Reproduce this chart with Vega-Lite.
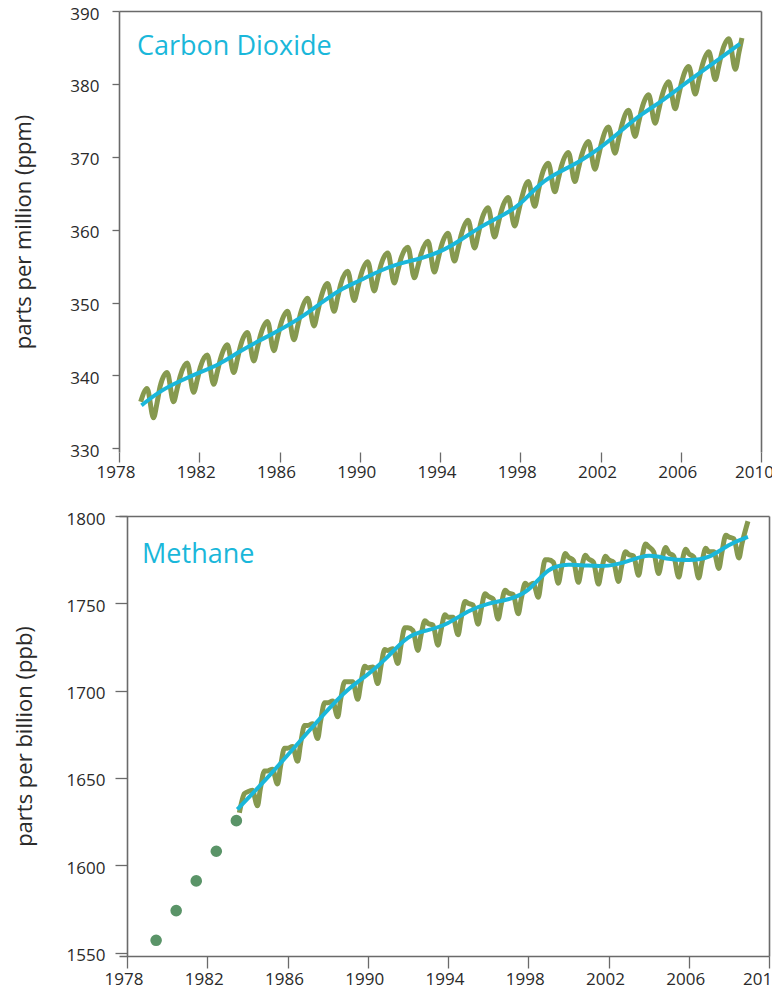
{
  "$schema": "https://vega.github.io/schema/vega-lite/v6.json",
  "autosize": {"type": "pad"},
  "padding": {"left": 12, "top": 5, "right": 0, "bottom": 6},
  "background": "white",
  "spacing": 30,
  "config": {
    "view": {"stroke": null},
    "axis": {
      "grid": false,
      "domainColor": "#6a6a6a", "domainWidth": 1.6,
      "tickColor": "#6a6a6a", "tickWidth": 1.3,
      "labelFont": "Open Sans", "labelFontSize": 17, "labelColor": "#2a2a2a",
      "titleFont": "Open Sans", "titleFontSize": 22, "titleFontWeight": "normal", "titleColor": "#2a2a2a"
    }
  },
  "datasets": {
    "co2": [
      {"year": 1979.08, "ppm": 336.4}, {"year": 1979.4, "ppm": 338.2}, {"year": 1979.72, "ppm": 334.2}, {"year": 1979.9, "ppm": 336.3},
      {"year": 1980.05, "ppm": 338.5}, {"year": 1980.4, "ppm": 340.4}, {"year": 1980.72, "ppm": 336.4}, {"year": 1980.9, "ppm": 338.2},
      {"year": 1981.05, "ppm": 339.9}, {"year": 1981.4, "ppm": 341.7}, {"year": 1981.72, "ppm": 337.7}, {"year": 1981.9, "ppm": 339.4},
      {"year": 1982.05, "ppm": 341.1}, {"year": 1982.4, "ppm": 342.8}, {"year": 1982.72, "ppm": 338.8}, {"year": 1982.9, "ppm": 340.5},
      {"year": 1983.05, "ppm": 342.2}, {"year": 1983.4, "ppm": 344.2}, {"year": 1983.72, "ppm": 340.4}, {"year": 1983.9, "ppm": 342.2},
      {"year": 1984.05, "ppm": 344.0}, {"year": 1984.4, "ppm": 345.9}, {"year": 1984.72, "ppm": 342.0}, {"year": 1984.9, "ppm": 343.8},
      {"year": 1985.05, "ppm": 345.5}, {"year": 1985.4, "ppm": 347.4}, {"year": 1985.72, "ppm": 343.4}, {"year": 1985.9, "ppm": 345.2},
      {"year": 1986.05, "ppm": 346.9}, {"year": 1986.4, "ppm": 348.8}, {"year": 1986.72, "ppm": 344.9}, {"year": 1986.9, "ppm": 346.7},
      {"year": 1987.05, "ppm": 348.5}, {"year": 1987.4, "ppm": 350.6}, {"year": 1987.72, "ppm": 346.8}, {"year": 1987.9, "ppm": 348.7},
      {"year": 1988.05, "ppm": 350.5}, {"year": 1988.4, "ppm": 352.6}, {"year": 1988.72, "ppm": 348.8}, {"year": 1988.9, "ppm": 350.7},
      {"year": 1989.05, "ppm": 352.5}, {"year": 1989.4, "ppm": 354.3}, {"year": 1989.72, "ppm": 350.3}, {"year": 1989.9, "ppm": 352.0},
      {"year": 1990.05, "ppm": 353.7}, {"year": 1990.4, "ppm": 355.6}, {"year": 1990.72, "ppm": 351.6}, {"year": 1990.9, "ppm": 353.4},
      {"year": 1991.05, "ppm": 355.1}, {"year": 1991.4, "ppm": 356.8}, {"year": 1991.72, "ppm": 352.7}, {"year": 1991.9, "ppm": 354.4},
      {"year": 1992.05, "ppm": 356.0}, {"year": 1992.4, "ppm": 357.6}, {"year": 1992.72, "ppm": 353.4}, {"year": 1992.9, "ppm": 355.0},
      {"year": 1993.05, "ppm": 356.6}, {"year": 1993.4, "ppm": 358.4}, {"year": 1993.72, "ppm": 354.2}, {"year": 1993.9, "ppm": 355.9},
      {"year": 1994.05, "ppm": 357.6}, {"year": 1994.4, "ppm": 359.5}, {"year": 1994.72, "ppm": 355.7}, {"year": 1994.9, "ppm": 357.4},
      {"year": 1995.05, "ppm": 359.2}, {"year": 1995.4, "ppm": 361.3}, {"year": 1995.72, "ppm": 357.5}, {"year": 1995.9, "ppm": 359.3},
      {"year": 1996.05, "ppm": 361.1}, {"year": 1996.4, "ppm": 363.0}, {"year": 1996.72, "ppm": 359.0}, {"year": 1996.9, "ppm": 360.8},
      {"year": 1997.05, "ppm": 362.5}, {"year": 1997.4, "ppm": 364.4}, {"year": 1997.72, "ppm": 360.5}, {"year": 1997.9, "ppm": 362.3},
      {"year": 1998.05, "ppm": 364.1}, {"year": 1998.4, "ppm": 366.6}, {"year": 1998.72, "ppm": 363.2}, {"year": 1998.9, "ppm": 365.3},
      {"year": 1999.05, "ppm": 367.2}, {"year": 1999.4, "ppm": 369.1}, {"year": 1999.72, "ppm": 365.2}, {"year": 1999.9, "ppm": 367.0},
      {"year": 2000.05, "ppm": 368.7}, {"year": 2000.4, "ppm": 370.6}, {"year": 2000.72, "ppm": 366.6}, {"year": 2000.9, "ppm": 368.4},
      {"year": 2001.05, "ppm": 370.1}, {"year": 2001.4, "ppm": 372.1}, {"year": 2001.72, "ppm": 368.3}, {"year": 2001.9, "ppm": 370.1},
      {"year": 2002.05, "ppm": 371.9}, {"year": 2002.4, "ppm": 374.1}, {"year": 2002.72, "ppm": 370.5}, {"year": 2002.9, "ppm": 372.4},
      {"year": 2003.05, "ppm": 374.2}, {"year": 2003.4, "ppm": 376.4}, {"year": 2003.72, "ppm": 372.8}, {"year": 2003.9, "ppm": 374.7},
      {"year": 2004.05, "ppm": 376.5}, {"year": 2004.4, "ppm": 378.5}, {"year": 2004.72, "ppm": 374.6}, {"year": 2004.9, "ppm": 376.4},
      {"year": 2005.05, "ppm": 378.2}, {"year": 2005.4, "ppm": 380.3}, {"year": 2005.72, "ppm": 376.6}, {"year": 2005.9, "ppm": 378.5},
      {"year": 2006.05, "ppm": 380.3}, {"year": 2006.4, "ppm": 382.4}, {"year": 2006.72, "ppm": 378.6}, {"year": 2006.9, "ppm": 380.5},
      {"year": 2007.05, "ppm": 382.3}, {"year": 2007.4, "ppm": 384.4}, {"year": 2007.72, "ppm": 380.6}, {"year": 2007.9, "ppm": 382.5},
      {"year": 2008.05, "ppm": 384.3}, {"year": 2008.4, "ppm": 386.2}, {"year": 2008.72, "ppm": 382.0}, {"year": 2008.9, "ppm": 384.3},
      {"year": 2009.05, "ppm": 386.3}
    ],
    "co2trend": [
      {"year": 1979.12, "ppm": 335.9}, {"year": 1980, "ppm": 337.8}, {"year": 1981, "ppm": 339.2}, {"year": 1982, "ppm": 340.4},
      {"year": 1983, "ppm": 341.5}, {"year": 1984, "ppm": 343.3}, {"year": 1985, "ppm": 344.8}, {"year": 1986, "ppm": 346.2},
      {"year": 1987, "ppm": 347.8}, {"year": 1988, "ppm": 349.8}, {"year": 1989, "ppm": 351.8}, {"year": 1990, "ppm": 353.0},
      {"year": 1991, "ppm": 354.4}, {"year": 1992, "ppm": 355.4}, {"year": 1993, "ppm": 356.0}, {"year": 1994, "ppm": 356.9},
      {"year": 1995, "ppm": 358.5}, {"year": 1996, "ppm": 360.4}, {"year": 1997, "ppm": 361.8}, {"year": 1998, "ppm": 363.3},
      {"year": 1999, "ppm": 366.5}, {"year": 2000, "ppm": 368.0}, {"year": 2001, "ppm": 369.4}, {"year": 2002, "ppm": 371.2},
      {"year": 2003, "ppm": 373.5}, {"year": 2004, "ppm": 375.8}, {"year": 2005, "ppm": 377.5}, {"year": 2006, "ppm": 379.6},
      {"year": 2007, "ppm": 381.6}, {"year": 2008, "ppm": 383.6}, {"year": 2008.95, "ppm": 385.5}
    ],
    "ch4": [
      {"year": 1983.6, "ppb": 1630}, {"year": 1983.85, "ppb": 1641},
      {"year": 1984.0, "ppb": 1642}, {"year": 1984.25, "ppb": 1643}, {"year": 1984.5, "ppb": 1634}, {"year": 1984.65, "ppb": 1644}, {"year": 1984.85, "ppb": 1654},
      {"year": 1985.0, "ppb": 1654}, {"year": 1985.25, "ppb": 1655}, {"year": 1985.5, "ppb": 1646.5}, {"year": 1985.65, "ppb": 1656.5}, {"year": 1985.85, "ppb": 1667},
      {"year": 1986.0, "ppb": 1667}, {"year": 1986.25, "ppb": 1668}, {"year": 1986.5, "ppb": 1659.5}, {"year": 1986.65, "ppb": 1669.5}, {"year": 1986.85, "ppb": 1680},
      {"year": 1987.0, "ppb": 1680}, {"year": 1987.25, "ppb": 1681}, {"year": 1987.5, "ppb": 1672.5}, {"year": 1987.65, "ppb": 1682.5}, {"year": 1987.85, "ppb": 1693},
      {"year": 1988.0, "ppb": 1693}, {"year": 1988.25, "ppb": 1694}, {"year": 1988.5, "ppb": 1685}, {"year": 1988.65, "ppb": 1695}, {"year": 1988.85, "ppb": 1705},
      {"year": 1989.0, "ppb": 1705}, {"year": 1989.25, "ppb": 1705}, {"year": 1989.5, "ppb": 1695}, {"year": 1989.65, "ppb": 1704}, {"year": 1989.85, "ppb": 1714},
      {"year": 1990.0, "ppb": 1713}, {"year": 1990.25, "ppb": 1713.5}, {"year": 1990.5, "ppb": 1704}, {"year": 1990.65, "ppb": 1713.5}, {"year": 1990.85, "ppb": 1723.5},
      {"year": 1991.0, "ppb": 1723}, {"year": 1991.25, "ppb": 1724}, {"year": 1991.5, "ppb": 1715.5}, {"year": 1991.65, "ppb": 1725.5}, {"year": 1991.85, "ppb": 1736},
      {"year": 1992.0, "ppb": 1736}, {"year": 1992.25, "ppb": 1734.5}, {"year": 1992.5, "ppb": 1723}, {"year": 1992.65, "ppb": 1731.5}, {"year": 1992.85, "ppb": 1740},
      {"year": 1993.0, "ppb": 1738.5}, {"year": 1993.25, "ppb": 1737.5}, {"year": 1993.5, "ppb": 1726}, {"year": 1993.65, "ppb": 1734.5}, {"year": 1993.85, "ppb": 1743.5},
      {"year": 1994.0, "ppb": 1742}, {"year": 1994.25, "ppb": 1742}, {"year": 1994.5, "ppb": 1732}, {"year": 1994.65, "ppb": 1741}, {"year": 1994.85, "ppb": 1751},
      {"year": 1995.0, "ppb": 1750}, {"year": 1995.25, "ppb": 1749}, {"year": 1995.5, "ppb": 1738}, {"year": 1995.65, "ppb": 1746.5}, {"year": 1995.85, "ppb": 1755.5},
      {"year": 1996.0, "ppb": 1754}, {"year": 1996.25, "ppb": 1752.5}, {"year": 1996.5, "ppb": 1741}, {"year": 1996.65, "ppb": 1749}, {"year": 1996.85, "ppb": 1757.5},
      {"year": 1997.0, "ppb": 1756}, {"year": 1997.25, "ppb": 1755}, {"year": 1997.5, "ppb": 1744}, {"year": 1997.65, "ppb": 1752.5}, {"year": 1997.85, "ppb": 1761.5},
      {"year": 1998.0, "ppb": 1760}, {"year": 1998.25, "ppb": 1761.5}, {"year": 1998.5, "ppb": 1753.5}, {"year": 1998.65, "ppb": 1763.5}, {"year": 1998.85, "ppb": 1775},
      {"year": 1999.0, "ppb": 1775}, {"year": 1999.25, "ppb": 1773.5}, {"year": 1999.5, "ppb": 1761.5}, {"year": 1999.65, "ppb": 1770}, {"year": 1999.85, "ppb": 1778.5},
      {"year": 2000.0, "ppb": 1776.5}, {"year": 2000.25, "ppb": 1774.5}, {"year": 2000.5, "ppb": 1762}, {"year": 2000.65, "ppb": 1770}, {"year": 2000.85, "ppb": 1777.5},
      {"year": 2001.0, "ppb": 1775.5}, {"year": 2001.25, "ppb": 1773.5}, {"year": 2001.5, "ppb": 1761}, {"year": 2001.65, "ppb": 1769}, {"year": 2001.85, "ppb": 1777},
      {"year": 2002.0, "ppb": 1775}, {"year": 2002.25, "ppb": 1773.5}, {"year": 2002.5, "ppb": 1762.5}, {"year": 2002.65, "ppb": 1771}, {"year": 2002.85, "ppb": 1779.5},
      {"year": 2003.0, "ppb": 1778}, {"year": 2003.25, "ppb": 1777}, {"year": 2003.5, "ppb": 1766}, {"year": 2003.65, "ppb": 1775}, {"year": 2003.85, "ppb": 1784},
      {"year": 2004.0, "ppb": 1782.5}, {"year": 2004.25, "ppb": 1779.5}, {"year": 2004.5, "ppb": 1767}, {"year": 2004.65, "ppb": 1774.5}, {"year": 2004.85, "ppb": 1782},
      {"year": 2005.0, "ppb": 1779}, {"year": 2005.25, "ppb": 1777}, {"year": 2005.5, "ppb": 1765}, {"year": 2005.65, "ppb": 1773}, {"year": 2005.85, "ppb": 1781},
      {"year": 2006.0, "ppb": 1778.5}, {"year": 2006.25, "ppb": 1776.5}, {"year": 2006.5, "ppb": 1764.5}, {"year": 2006.65, "ppb": 1773}, {"year": 2006.85, "ppb": 1781.5},
      {"year": 2007.0, "ppb": 1779.5}, {"year": 2007.25, "ppb": 1779.5}, {"year": 2007.5, "ppb": 1770}, {"year": 2007.65, "ppb": 1779}, {"year": 2007.85, "ppb": 1789},
      {"year": 2008.0, "ppb": 1788}, {"year": 2008.25, "ppb": 1787}, {"year": 2008.5, "ppb": 1776}, {"year": 2008.65, "ppb": 1784}, {"year": 2008.95, "ppb": 1797}
    ],
    "ch4trend": [
      {"year": 1983.5, "ppb": 1632}, {"year": 1984, "ppb": 1638}, {"year": 1985, "ppb": 1650}, {"year": 1986, "ppb": 1663},
      {"year": 1987, "ppb": 1676}, {"year": 1988, "ppb": 1689}, {"year": 1989, "ppb": 1701}, {"year": 1990, "ppb": 1709},
      {"year": 1991, "ppb": 1719}, {"year": 1992, "ppb": 1732}, {"year": 1993, "ppb": 1734.5}, {"year": 1994, "ppb": 1738},
      {"year": 1995, "ppb": 1746}, {"year": 1996, "ppb": 1750}, {"year": 1997, "ppb": 1752}, {"year": 1998, "ppb": 1756},
      {"year": 1999, "ppb": 1771}, {"year": 2000, "ppb": 1772.5}, {"year": 2001, "ppb": 1771.5}, {"year": 2002, "ppb": 1771},
      {"year": 2003, "ppb": 1774}, {"year": 2004, "ppb": 1778.5}, {"year": 2005, "ppb": 1775}, {"year": 2006, "ppb": 1774.5},
      {"year": 2007, "ppb": 1775.5}, {"year": 2008, "ppb": 1784}, {"year": 2008.95, "ppb": 1788}
    ],
    "ch4early": [
      {"year": 1979.45, "ppb": 1557}, {"year": 1980.45, "ppb": 1574}, {"year": 1981.45, "ppb": 1591},
      {"year": 1982.45, "ppb": 1608}, {"year": 1983.45, "ppb": 1625.5}
    ],
    "labels1": [{"year": 1978.9, "ppm": 384.0, "name": "Carbon Dioxide"}],
    "labels2": [{"year": 1978.75, "ppb": 1773.2, "name": "Methane"}]
  },
  "vconcat": [
    {
      "width": 642, "height": 441,
      "resolve": {"axis": {"x": "independent", "y": "independent"}},
      "layer": [
        {
          "data": {"name": "co2"},
          "mark": {"type": "line", "color": "#86994f", "strokeWidth": 5, "interpolate": "monotone"},
          "encoding": {
            "x": {"field": "year", "type": "quantitative", "scale": {"domain": [1978, 2010], "nice": false, "zero": false},
                  "axis": {"title": null, "values": [1978, 1982, 1986, 1990, 1994, 1998, 2002, 2006, 2010], "format": "d", "domain": false, "tickSize": 10, "labelPadding": 2, "labelFlush": false,
                           "labelOffset": {"condition": {"test": "datum.value == 2010", "value": -7}, "value": -3.5}}},
            "y": {"field": "ppm", "type": "quantitative", "scale": {"domain": [329.5, 390], "nice": false, "zero": false},
                  "axis": {"title": "parts per million (ppm)", "values": [330, 340, 350, 360, 370, 380, 390], "format": "d", "tickSize": 7, "labelPadding": 13, "labelOffset": 3, "titlePadding": 34}}
          }
        },
        {
          "data": {"name": "co2trend"},
          "mark": {"type": "line", "color": "#1ab7da", "strokeWidth": 4, "interpolate": "basis"},
          "encoding": {
            "x": {"field": "year", "type": "quantitative", "axis": {"orient": "top", "title": null, "labels": false, "ticks": false, "domain": true}},
            "y": {"field": "ppm", "type": "quantitative", "axis": {"orient": "right", "title": null, "labels": false, "ticks": false, "domain": true}}
          }
        },
        {
          "data": {"name": "labels1"},
          "mark": {"type": "text", "align": "left", "baseline": "alphabetic", "font": "Open Sans", "fontSize": 27, "color": "#1ab7da"},
          "encoding": {
            "x": {"field": "year", "type": "quantitative", "axis": null},
            "y": {"field": "ppm", "type": "quantitative", "axis": null},
            "text": {"field": "name"}
          }
        }
      ]
    },
    {
      "width": 650, "height": 440,
      "resolve": {"axis": {"x": "independent", "y": "independent"}},
      "layer": [
        {
          "data": {"name": "ch4"},
          "mark": {"type": "line", "color": "#86994f", "strokeWidth": 5, "interpolate": "monotone"},
          "encoding": {
            "x": {"field": "year", "type": "quantitative", "scale": {"domain": [1977.6, 2010], "nice": false, "zero": false},
                  "axis": {"title": null, "values": [1978, 1982, 1986, 1990, 1994, 1998, 2002, 2006, 2010], "format": "d", "domain": true, "tickSize": 12, "labelPadding": 3, "labelFlush": false,
                           "labelOffset": {"condition": {"test": "datum.value == 2010", "value": -7}, "value": -3.5}}},
            "y": {"field": "ppb", "type": "quantitative", "scale": {"domain": [1548, 1800], "nice": false, "zero": false},
                  "axis": {"title": "parts per billion (ppb)", "values": [1550, 1600, 1650, 1700, 1750, 1800], "format": "d", "offset": -8, "tickSize": 12, "labelPadding": 10, "labelOffset": 3, "titlePadding": 30}}
          }
        },
        {
          "data": {"name": "ch4trend"},
          "mark": {"type": "line", "color": "#1ab7da", "strokeWidth": 4, "interpolate": "basis"},
          "encoding": {
            "x": {"field": "year", "type": "quantitative", "axis": {"orient": "top", "title": null, "labels": false, "ticks": false, "domain": true}},
            "y": {"field": "ppb", "type": "quantitative", "axis": {"orient": "right", "title": null, "labels": false, "ticks": false, "domain": true}}
          }
        },
        {
          "data": {"name": "ch4early"},
          "mark": {"type": "circle", "color": "#5a9468", "opacity": 1, "size": 135},
          "encoding": {
            "x": {"field": "year", "type": "quantitative", "axis": null},
            "y": {"field": "ppb", "type": "quantitative", "axis": null}
          }
        },
        {
          "data": {"name": "labels2"},
          "mark": {"type": "text", "align": "left", "baseline": "alphabetic", "font": "Open Sans", "fontSize": 27, "color": "#1ab7da"},
          "encoding": {
            "x": {"field": "year", "type": "quantitative", "axis": null},
            "y": {"field": "ppb", "type": "quantitative", "axis": null},
            "text": {"field": "name"}
          }
        }
      ]
    }
  ]
}
